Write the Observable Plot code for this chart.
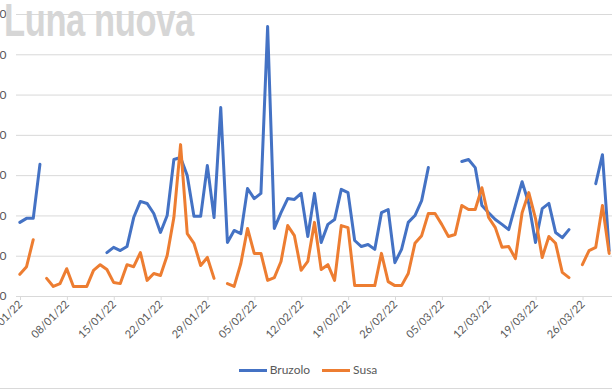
<!DOCTYPE html>
<html><head><meta charset="utf-8">
<script src="https://cdn.jsdelivr.net/npm/d3@7"></script>
<script src="https://cdn.jsdelivr.net/npm/@observablehq/plot@0.6"></script>
<style>
body{margin:0;background:#fff;}
#wrap{position:relative;width:612px;height:390px;overflow:hidden;background:#fff;font-family:Lato,"Open Sans",sans-serif;}
#chart{position:absolute;left:0;top:0;}
#title{position:absolute;left:4px;top:-2px;font-family:"Liberation Sans",Arial,sans-serif;font-weight:bold;font-size:46px;line-height:45px;color:#d6d6d6;white-space:nowrap;transform:scaleX(0.75);transform-origin:0 0;letter-spacing:-0.5px;}
#legend{position:absolute;top:362px;left:0;width:616px;display:flex;justify-content:center;align-items:center;font-size:12px;line-height:16px;color:#595959;}
#legend .item{display:flex;align-items:center;margin:0 6px;}
#legend .sw{display:inline-block;width:28px;height:3px;margin-right:3px;}
#border{position:absolute;left:0;top:388px;width:612px;height:0;border-top:1px solid #d9d9d9;}
</style>
</head><body>
<div id="wrap">
  <div id="chart"></div>
  <div id="title">Luna nuova</div>
  <div id="legend"></div>
  <div id="border"></div>
</div>
<script>
// daily values starting 01/01/22 (null = no data)
const startDate = "01/01/22";
const seriesNames = ["Bruzolo", "Susa"];
const seriesColors = ["#4472C4", "#ED7D31"];
const tickLabels = ["01/01/22","08/01/22","15/01/22","22/01/22","29/01/22","05/02/22","12/02/22","19/02/22","26/02/22","05/03/22","12/03/22","19/03/22","26/03/22"];
const yTicks = [0, 10, 20, 30, 40, 50, 60, 70];
const bruzolo = [
  18.4, 19.4, 19.4, 32.8, null, null, null, null, null, null,
  null, null, null, 10.9, 12.2, 11.4, 12.4, 19.6, 23.6, 23.1,
  20.6, 15.9, 20.1, 34.0, 34.5, 30.0, 19.9, 19.9, 32.5, 19.6,
  46.9, 13.4, 16.4, 15.6, 26.8, 24.3, 25.6, 67.0, 16.9, 20.8,
  24.3, 24.1, 25.6, 14.9, 25.6, 13.4, 17.9, 19.1, 26.6, 25.8,
  13.9, 12.4, 12.9, 11.7, 20.8, 21.6, 8.4, 11.7, 18.4, 20.1,
  23.8, 32.0, null, null, null, null, 33.5, 34.0, 32.0, 22.6,
  20.8, 19.1, 17.9, 16.6, 22.6, 28.5, 23.1, 13.4, 21.8, 23.1,
  15.9, 14.6, 16.6, null, null, null, 28.0, 35.2, 11.4
];
const susa = [
  5.5, 7.4, 14.1, null, 4.5, 2.5, 3.2, 6.9, 2.5, 2.5,
  2.5, 6.5, 7.9, 6.7, 3.5, 3.2, 7.9, 7.4, 10.9, 4.0,
  5.7, 5.2, 10.2, 19.6, 37.7, 15.6, 13.2, 7.7, 9.7, 4.5,
  null, 3.2, 2.5, 8.2, 16.9, 10.7, 10.7, 4.0, 4.7, 8.7,
  17.6, 15.1, 6.5, 8.7, 18.4, 6.7, 7.9, 4.0, 17.6, 17.1,
  2.7, 2.7, 2.7, 2.7, 10.7, 3.7, 2.7, 2.7, 5.7, 13.2,
  15.1, 20.6, 20.6, 17.9, 14.9, 15.4, 22.6, 21.6, 21.6, 27.0,
  19.6, 17.1, 12.2, 12.4, 9.4, 20.8, 25.8, 19.4, 9.7, 14.9,
  13.2, 6.0, 4.7, null, 7.9, 11.4, 12.2, 22.6, 10.7
];

const parseD = s => { const [d, m, y] = s.split("/").map(Number); return new Date(Date.UTC(2000 + y, m - 1, d)); };
const DAY = 864e5;
const t0 = parseD(startDate);
const tickDates = tickLabels.map(parseD);
const rows = bruzolo.map((v, i) => ({date: new Date(t0.getTime() + (i + 0.5) * DAY), Bruzolo: v, Susa: susa[i]}));

const chart = Plot.plot({
  width: 612, height: 345,
  marginLeft: 16, marginRight: 0, marginTop: 14, marginBottom: 49,
  style: {fontFamily: "Lato, 'Open Sans', sans-serif", fontSize: "11px", color: "#595959", background: "transparent", overflow: "visible"},
  x: {type: "utc", domain: [t0, new Date(t0.getTime() + 89 * DAY)]},
  y: {domain: [0, 70]},
  marks: [
    Plot.gridY(yTicks, {stroke: "#d9d9d9", strokeOpacity: 1, strokeWidth: 1}),
    Plot.axisY(yTicks, {tickSize: 0, tickPadding: 10, fontSize: 12, fill: "#595959", tickFormat: d => String(d), label: null}),
    Plot.axisX(tickDates, {tickRotate: -45, tickSize: 4, tickPadding: 2, dx: 4, stroke: "#d9d9d9", fill: "#595959", tickFormat: d3.utcFormat("%d/%m/%y"), label: null}),
    Plot.line(rows, {x: "date", y: "Bruzolo", stroke: seriesColors[0], strokeWidth: 3, strokeLinejoin: "round", strokeLinecap: "round"}),
    Plot.line(rows, {x: "date", y: "Susa", stroke: seriesColors[1], strokeWidth: 3, strokeLinejoin: "round", strokeLinecap: "round"})
  ]
});
document.getElementById("chart").appendChild(chart);

const legend = document.getElementById("legend");
seriesNames.forEach((n, i) => {
  const it = document.createElement("div");
  it.className = "item";
  it.innerHTML = `<span class="sw" style="background:${seriesColors[i]}"></span><span>${n}</span>`;
  legend.appendChild(it);
});
</script>
</body></html>
